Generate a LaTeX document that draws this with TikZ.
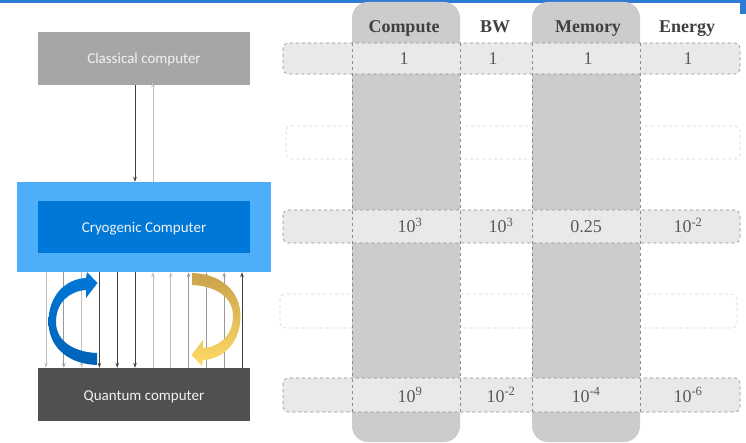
\documentclass[tikz,border=0pt]{standalone}
\usepackage{fontspec}
\setmainfont{Liberation Serif}
\newfontfamily\calib{Carlito}
\newfontfamily\timesf{Liberation Serif}
\usetikzlibrary{arrows.meta}
\definecolor{topbar}{HTML}{2E7BD6}
\definecolor{clsgray}{HTML}{A6A6A6}
\definecolor{cryoout}{HTML}{4DAEFA}
\definecolor{cryoin}{HTML}{0078D7}
\definecolor{bluebot}{HTML}{0062B8}
\definecolor{yeltop}{HTML}{C9A24B}
\definecolor{yelbot}{HTML}{FFD966}
\definecolor{qgray}{HTML}{505050}
\definecolor{colgray}{HTML}{CCCCCC}
\definecolor{rowfill}{HTML}{E9E9E9}
\definecolor{rowline}{HTML}{8C8C8C}
\definecolor{rowlight}{HTML}{D4D4D4}
\definecolor{hdrcol}{HTML}{404040}
\definecolor{valcol}{HTML}{595959}
\definecolor{lnlight}{HTML}{BFBFBF}
\definecolor{lnmid}{HTML}{999999}
\definecolor{lndark}{HTML}{3F3F3F}
\begin{document}
\begin{tikzpicture}[x=1pt,y=-1pt,
  compbox/.style={rectangle,inner sep=0pt,minimum width=212pt,minimum height=53pt,
    text height=11pt,text depth=0pt,
    text=white!95!black,font=\calib\fontsize{15}{18}\selectfont},
  colbg/.style={fill=colgray,rounded corners=16pt},
  fullrow/.style={fill=rowfill,draw=rowline,dashed,rounded corners=5pt,line width=0.6pt},
  emptyrow/.style={draw=rowlight,dashed,rounded corners=5pt,line width=0.6pt},
  coledge/.style={draw=rowline,dashed,line width=0.6pt},
  hdr/.style={font=\timesf\bfseries\fontsize{18}{20}\selectfont,text=hdrcol,inner sep=0pt,anchor=base},
  val/.style={font=\timesf\fontsize{18}{20}\selectfont,text=valcol,inner sep=0pt,anchor=base},
  wire/.style={line width=0.8pt,-{Stealth[length=5pt,width=3.5pt]}}
]
\useasboundingbox (0,0) rectangle (746,443);
% top bar
\fill[topbar] (0,0) rectangle (740,3);
\fill[topbar] (740,0) rectangle (746,14);

% ---------- left column ----------
\node[compbox,fill=clsgray] (cls) at (144,58.5) {Classical computer};
\node[rectangle,inner sep=0pt,fill=cryoout,minimum width=254pt,minimum height=90pt] (cryoo) at (144,227) {};
\node[compbox,fill=cryoin,minimum height=52pt] (cryo) at (144,227) {Cryogenic Computer};
\node[compbox,fill=qgray] (qc) at (144,394.5) {Quantum computer};

\coordinate (cd) at (135,0);
\coordinate (cu) at (153,0);
\draw[wire,lndark] (cls.south -| cd) -- (cryoo.north -| cd);
\draw[wire,lnlight] (cryoo.north -| cu) -- ([yshift=3pt]cls.south -| cu);

\foreach \i/\x/\c/\d in {1/46/lnlight/d,2/63.8/lnmid/d,3/81.6/lnlight/d,4/99.4/lndark/d,5/117.2/lndark/d,6/135/lndark/d,
  7/153/lnlight/u,8/170.8/lnlight/u,9/188.6/lnmid/u,10/206.4/lnmid/u,11/224.2/lnmid/u,12/242/lndark/u}{
  \coordinate (v\i) at (\x,0);
  \if\d d
    \draw[wire,\c] (cryoo.south -| v\i) -- (qc.north -| v\i);
  \else
    \draw[wire,\c] (qc.north -| v\i) -- (cryoo.south -| v\i);
  \fi
}

% blue curved arrow
\shade[top color=cryoin,bottom color=bluebot]
  (97,365) .. controls (66,364) and (48.5,345) .. (48.5,322)
  .. controls (48.5,296) and (65,279) .. (86,278)
  -- (87,272) -- (97.5,283) -- (86,298) -- (86,290)
  .. controls (70,291) and (56,302) .. (56,322)
  .. controls (56,340) and (72,352) .. (97,353) -- cycle;
% yellow curved arrow
\shade[top color=yeltop,bottom color=yelbot]
  (192,273) .. controls (223,274) and (240.5,293) .. (240.5,316)
  .. controls (240.5,342) and (224,359) .. (203,360)
  -- (202,366) -- (191.5,355) -- (203,340) -- (203,348)
  .. controls (219,347) and (233,336) .. (233,316)
  .. controls (233,298) and (217,286) .. (192,285) -- cycle;

% ---------- table ----------
\fill[colbg] (352,2) rectangle (460,442);
\fill[colbg] (532,2) rectangle (640,442);

\draw[fullrow] (283,43) rectangle (740,74);
\draw[emptyrow] (286,126) rectangle (740,159);
\draw[fullrow] (283,210) rectangle (740,243);
\draw[emptyrow] (280,294) rectangle (737,328);
\draw[fullrow] (283,378) rectangle (740,412);

\draw[coledge] (352,43) -- (352,412);
\draw[coledge] (460,43) -- (460,412);
\draw[coledge] (532,43) -- (532,412);
\draw[coledge] (640,43) -- (640,412);

\node[hdr] (hc) at (404,33) {Compute};
\node[hdr] (hb) at (495,33) {BW};
\node[hdr] (hm) at (588,33) {Memory};
\node[hdr] (he) at (687,33) {Energy};

\node[val] (a1) at (404,65) {1};
\node[val] (a2) at (493,65) {1};
\node[val] (a3) at (588,65) {1};
\node[val] (a4) at (688,65) {1};

\node[val] (b1) at (410,233) {10\textsuperscript{3}};
\node[val] (b2) at (501,233) {10\textsuperscript{3}};
\node[val] (b3) at (586,233) {0.25};
\node[val] (b4) at (688,233) {10\textsuperscript{-2}};

\node[val] (c1) at (410,402) {10\textsuperscript{9}};
\node[val] (c2) at (501,402) {10\textsuperscript{-2}};
\node[val] (c3) at (586,402) {10\textsuperscript{-4}};
\node[val] (c4) at (688,402) {10\textsuperscript{-6}};
\end{tikzpicture}
\end{document}
